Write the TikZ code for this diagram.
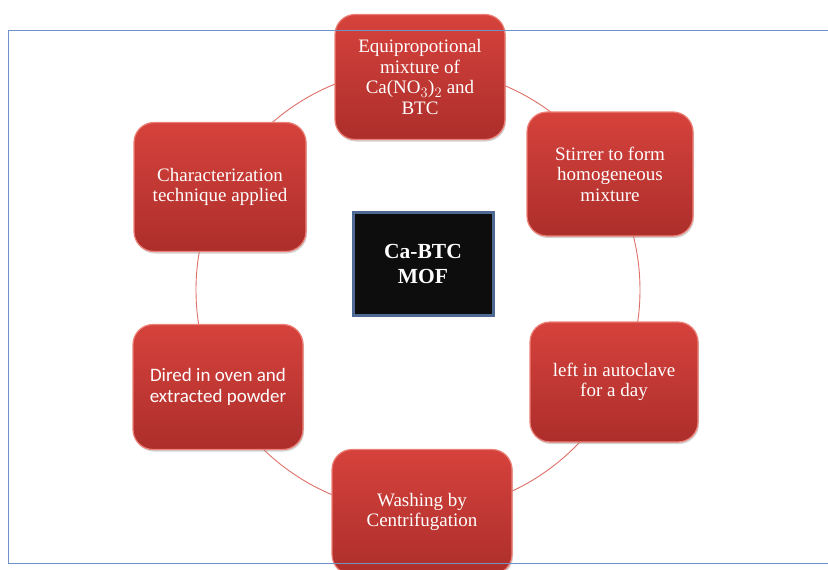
\documentclass[tikz,border=0pt]{standalone}
\usepackage{fontspec}
\setmainfont{Liberation Serif}
\newfontfamily\calibri{Carlito}
\usepackage{tikz}
\usetikzlibrary{positioning,shadows}

\definecolor{boxtop}{RGB}{214,66,60}
\definecolor{boxbot}{RGB}{172,46,43}
\definecolor{boxedge}{RGB}{236,128,118}
\definecolor{ringred}{RGB}{222,112,104}
\definecolor{frameblue}{RGB}{112,146,198}
\definecolor{mofedge}{RGB}{78,106,148}

\tikzset{
  stepbox/.style={rounded corners=20pt, top color=boxtop, bottom color=boxbot,
    draw=boxedge, line width=1.2pt, text=white, align=center,
    font=\fontsize{19}{20.5}\selectfont, inner sep=0pt,
    drop shadow={opacity=0.35, shadow xshift=1pt, shadow yshift=-2pt}},
  ring/.style={draw=ringred, line width=0.9pt},
  mofbox/.style={fill=black!95, draw=mofedge, line width=3pt, text=white,
    align=center, font=\fontsize{21.5}{25}\selectfont\bfseries,
    minimum width=140pt, minimum height=103pt}
}

\begin{document}
\begin{tikzpicture}[x=1pt,y=-1pt]
        \useasboundingbox (0,0) rectangle (828,570);
        % Ring behind the steps
        \coordinate (hub) at (418,290);
        \draw[ring] (hub) circle [radius=222pt];
        % Steps round the ring
        \node[stepbox, minimum width=170pt, minimum height=125pt] (mix) at (420,77)
            {Equipropotional\\ mixture of\\ Ca(NO$_3$)$_2$ and\\ BTC};
        \node[stepbox, minimum width=166pt, minimum height=124pt] (stir) at (610,174)
            {Stirrer to form\\ homogeneous\\ mixture};
        \node[stepbox, minimum width=168pt, minimum height=120pt] (auto) at (614,382)
            {left in autoclave\\ for a day};
        \node[stepbox, minimum width=180pt, minimum height=125pt] (wash) at (422,512)
            {Washing by\\ Centrifugation};
        \node[stepbox, minimum width=170pt, minimum height=125pt,
            font=\calibri\fontsize{19}{21}\selectfont] (dry) at (218,387)
            {Dired in oven and\\ extracted powder};
        \node[stepbox, minimum width=172pt, minimum height=129pt] (charz) at (220,187)
            {Characterization\\ technique applied};
        % Centre label
        \node[mofbox] (mof) at (423,263.5) {Ca-BTC\\ MOF};
        % Outer frame, over the boxes
        \draw[frameblue, line width=1pt] (8,30) rectangle (836,563);
    \end{tikzpicture}
\end{document}
